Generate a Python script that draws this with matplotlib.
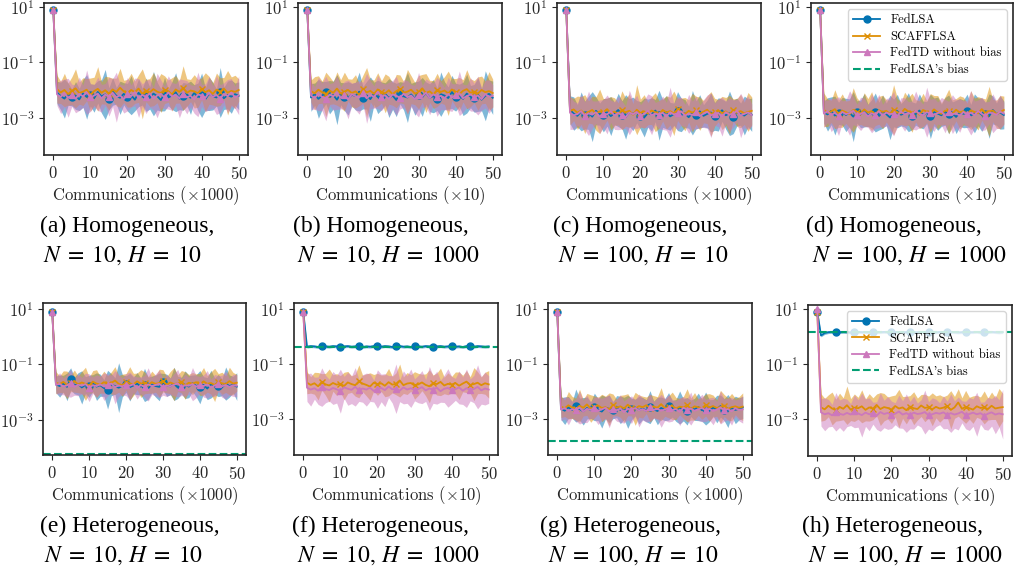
import numpy as np
import matplotlib
matplotlib.use("Agg")
import matplotlib.pyplot as plt

plt.rcParams['font.family'] = 'cmr10'
plt.rcParams['mathtext.fontset'] = 'cm'
plt.rcParams['axes.formatter.use_mathtext'] = True
plt.rcParams['axes.unicode_minus'] = False

# x axis: communication rounds (scaled), 0..50
steps = np.arange(51)

# mean curves are log10 values * 100, spreads are log10 half-width * 10
# ---- (a) homogeneous N=10 H=10
a_lsa_m = [90,
 -208, -221, -230, -214, -226, -219, -233, -211, -224, -217,
 -229, -206, -222, -215, -231, -204, -220, -227, -213, -225,
 -218, -234, -209, -223, -216, -228, -212, -221, -235, -214,
 -226, -219, -207, -230, -222, -215, -227, -210, -224, -218,
 -232, -213, -221, -226, -208, -229, -217, -223, -214, -220]
a_lsa_s = [1,
 4, 5, 7, 4, 3, 5, 4, 5, 8, 4,
 5, 4, 6, 9, 4, 5, 3, 6, 4, 5,
 7, 4, 5, 3, 6, 4, 8, 5, 4, 6,
 3, 5, 7, 4, 5, 4, 6, 3, 5, 8,
 4, 6, 5, 3, 9, 4, 5, 6, 4, 5]
a_sc_m = [90,
 -196, -208, -199, -214, -202, -193, -210, -205, -198, -216,
 -203, -195, -209, -200, -212, -197, -206, -191, -204, -211,
 -199, -207, -194, -213, -201, -208, -196, -205, -210, -198,
 -203, -215, -197, -206, -192, -209, -201, -204, -211, -195,
 -207, -200, -213, -198, -205, -194, -209, -202, -206, -199]
a_sc_s = [1,
 5, 4, 6, 4, 5, 7, 4, 5, 4, 6,
 5, 8, 4, 5, 6, 4, 5, 7, 4, 5,
 6, 4, 5, 9, 4, 5, 6, 4, 7, 5,
 4, 6, 5, 4, 8, 5, 4, 6, 5, 4,
 7, 5, 4, 6, 5, 4, 8, 5, 6, 4]
a_td_m = [90,
 -215, -224, -210, -227, -218, -231, -213, -222, -207, -226,
 -219, -212, -229, -216, -223, -209, -225, -218, -232, -214,
 -221, -206, -228, -217, -224, -211, -230, -219, -213, -226,
 -208, -222, -216, -229, -212, -225, -220, -233, -215, -219,
 -227, -210, -224, -217, -230, -213, -221, -208, -226, -218]
a_td_s = [1,
 4, 6, 5, 7, 4, 5, 6, 4, 8, 5,
 4, 6, 5, 4, 7, 5, 9, 4, 5, 6,
 4, 5, 7, 4, 6, 5, 4, 8, 5, 4,
 6, 5, 4, 7, 5, 6, 4, 5, 8, 4,
 5, 6, 4, 7, 5, 4, 6, 5, 4, 7]

# ---- (b) homogeneous N=10 H=1000
b_lsa_m = [90,
 -226, -214, -231, -219, -208, -225, -217, -234, -212, -223,
 -229, -216, -221, -205, -227, -218, -232, -211, -224, -220,
 -213, -228, -219, -235, -209, -222, -226, -215, -230, -217,
 -224, -210, -227, -221, -233, -214, -219, -228, -206, -225,
 -218, -231, -212, -223, -229, -216, -234, -220, -213, -227]
b_lsa_s = [1,
 5, 4, 7, 5, 4, 6, 5, 9, 4, 5,
 6, 4, 5, 7, 4, 5, 8, 4, 6, 5,
 4, 7, 5, 6, 4, 5, 9, 4, 6, 5,
 7, 4, 5, 6, 4, 8, 5, 4, 6, 5,
 4, 6, 7, 4, 5, 6, 4, 9, 5, 6]
b_sc_m = [90,
 -203, -211, -198, -207, -215, -201, -209, -194, -212, -205,
 -199, -210, -204, -216, -196, -208, -202, -213, -197, -206,
 -211, -200, -214, -203, -195, -209, -205, -198, -212, -207,
 -193, -210, -204, -215, -199, -206, -201, -211, -197, -208,
 -214, -202, -196, -209, -205, -212, -199, -207, -203, -210]
b_sc_s = [1,
 4, 6, 5, 4, 8, 5, 4, 6, 5, 7,
 4, 5, 6, 4, 5, 9, 4, 5, 6, 4,
 7, 5, 4, 6, 5, 4, 8, 5, 4, 6,
 5, 7, 4, 5, 6, 4, 5, 8, 4, 5,
 6, 4, 7, 5, 4, 6, 5, 4, 7, 5]
b_td_m = [90,
 -219, -228, -213, -224, -230, -216, -222, -209, -227, -218,
 -233, -214, -221, -226, -211, -229, -217, -224, -206, -223,
 -218, -231, -215, -220, -227, -212, -225, -219, -232, -216,
 -222, -209, -228, -214, -224, -220, -230, -213, -226, -217,
 -211, -229, -221, -215, -225, -219, -232, -214, -223, -220]
b_td_s = [1,
 5, 4, 6, 5, 8, 4, 5, 6, 4, 5,
 7, 4, 5, 6, 4, 9, 5, 4, 6, 5,
 4, 6, 5, 7, 4, 5, 6, 4, 5, 8,
 4, 5, 6, 4, 7, 5, 4, 6, 5, 4,
 8, 5, 4, 6, 5, 7, 4, 5, 6, 4]

# ---- (c) homogeneous N=100 H=10
c_lsa_m = [90,
 -270, -284, -292, -276, -289, -281, -295, -274, -286, -290,
 -279, -293, -283, -271, -288, -296, -280, -285, -277, -291,
 -298, -282, -287, -273, -290, -284, -279, -294, -286, -275,
 -289, -283, -297, -281, -288, -276, -292, -285, -280, -294,
 -287, -272, -290, -283, -296, -278, -286, -291, -281, -288]
c_lsa_s = [1,
 5, 6, 4, 7, 5, 6, 9, 5, 4, 6,
 5, 7, 4, 6, 5, 8, 5, 6, 4, 5,
 7, 5, 6, 4, 9, 5, 6, 5, 4, 7,
 6, 5, 4, 8, 5, 6, 4, 5, 7, 5,
 6, 4, 5, 8, 6, 5, 4, 7, 5, 6]
c_sc_m = [90,
 -275, -269, -281, -273, -286, -278, -271, -284, -276, -280,
 -268, -283, -277, -285, -272, -279, -274, -288, -270, -282,
 -276, -284, -273, -279, -287, -271, -280, -275, -283, -269,
 -278, -286, -274, -281, -272, -284, -277, -270, -285, -279,
 -273, -282, -276, -288, -271, -280, -275, -283, -278, -274]
c_sc_s = [1,
 5, 4, 6, 5, 7, 4, 5, 6, 8, 5,
 4, 6, 5, 4, 7, 5, 6, 4, 9, 5,
 6, 4, 5, 7, 5, 4, 6, 5, 8, 4,
 5, 6, 4, 7, 5, 6, 4, 5, 8, 5,
 4, 6, 5, 7, 4, 5, 6, 4, 7, 5]
c_td_m = [90,
 -281, -290, -286, -275, -293, -283, -288, -279, -295, -284,
 -287, -276, -291, -282, -289, -297, -280, -286, -278, -292,
 -285, -273, -290, -284, -288, -281, -294, -279, -287, -283,
 -276, -291, -285, -289, -280, -293, -284, -277, -290, -286,
 -282, -295, -279, -288, -284, -274, -291, -285, -280, -289]
c_td_s = [1,
 6, 5, 4, 6, 5, 8, 5, 4, 6, 5,
 7, 4, 5, 6, 5, 4, 8, 5, 6, 4,
 5, 6, 7, 4, 5, 6, 5, 9, 4, 6,
 5, 4, 7, 5, 6, 4, 5, 6, 8, 4,
 5, 7, 4, 6, 5, 4, 8, 5, 6, 4]

# ---- (d) homogeneous N=100 H=1000
d_lsa_m = [90,
 -279, -287, -274, -291, -283, -276, -289, -281, -295, -278,
 -285, -272, -290, -284, -280, -293, -277, -286, -298, -282,
 -275, -288, -283, -279, -292, -286, -273, -289, -281, -294,
 -278, -284, -290, -276, -287, -282, -296, -280, -285, -274,
 -291, -283, -278, -288, -284, -293, -271, -286, -280, -289]
d_lsa_s = [1,
 4, 6, 5, 7, 4, 5, 6, 5, 9, 4,
 5, 6, 4, 5, 7, 5, 6, 4, 8, 5,
 6, 4, 5, 7, 5, 4, 6, 5, 4, 8,
 5, 6, 4, 5, 7, 4, 6, 5, 5, 6,
 4, 7, 5, 6, 4, 8, 5, 4, 6, 5]
d_sc_m = [90,
 -270, -281, -276, -268, -284, -273, -279, -286, -271, -277,
 -283, -269, -280, -275, -287, -272, -278, -274, -285, -270,
 -279, -283, -267, -276, -281, -274, -288, -271, -277, -282,
 -269, -279, -285, -273, -276, -284, -270, -280, -275, -287,
 -272, -278, -283, -268, -281, -276, -273, -286, -279, -271]
d_sc_s = [1,
 6, 5, 4, 7, 5, 6, 4, 5, 8, 5,
 4, 6, 5, 7, 4, 5, 6, 4, 5, 9,
 5, 4, 6, 5, 7, 4, 5, 6, 4, 7,
 5, 6, 4, 5, 8, 5, 4, 6, 5, 4,
 7, 5, 6, 4, 5, 9, 4, 5, 6, 5]
d_td_m = [90,
 -284, -276, -289, -281, -293, -278, -286, -282, -274, -290,
 -285, -279, -294, -283, -288, -275, -291, -280, -286, -284,
 -292, -277, -287, -281, -289, -273, -285, -290, -279, -283,
 -288, -282, -276, -293, -280, -286, -284, -291, -278, -287,
 -281, -289, -275, -285, -292, -280, -283, -288, -277, -284]
d_td_s = [1,
 5, 4, 6, 5, 7, 4, 5, 8, 5, 4,
 6, 5, 4, 7, 5, 6, 4, 5, 6, 8,
 4, 5, 6, 4, 5, 7, 5, 4, 9, 5,
 6, 4, 5, 6, 4, 7, 5, 6, 4, 5,
 8, 5, 4, 6, 5, 4, 7, 5, 6, 4]

# ---- (e) heterogeneous N=10 H=10
e_lsa_m = [90,
 -172, -178, -169, -181, -152, -176, -170, -183, -174, -179,
 -167, -180, -175, -185, -191, -173, -178, -184, -177, -171,
 -182, -176, -169, -180, -174, -186, -172, -178, -181, -162,
 -175, -179, -170, -183, -176, -173, -180, -168, -177, -182,
 -174, -187, -171, -179, -176, -183, -169, -178, -173, -180]
e_lsa_s = [1,
 3, 4, 3, 5, 4, 3, 4, 6, 3, 4,
 3, 5, 4, 3, 7, 4, 3, 9, 4, 3,
 5, 3, 4, 3, 6, 4, 3, 4, 5, 3,
 4, 3, 6, 4, 3, 5, 4, 3, 4, 6,
 3, 4, 5, 3, 4, 3, 6, 4, 3, 5]
e_sc_m = [90,
 -166, -171, -163, -174, -168, -160, -172, -165, -170, -176,
 -162, -169, -173, -164, -171, -167, -158, -170, -175, -163,
 -168, -172, -161, -169, -166, -174, -164, -170, -167, -159,
 -173, -165, -171, -168, -162, -176, -166, -169, -164, -172,
 -161, -170, -167, -174, -163, -168, -171, -160, -169, -166]
e_sc_s = [1,
 4, 3, 4, 5, 3, 4, 3, 4, 6, 3,
 4, 5, 3, 4, 3, 4, 5, 3, 4, 3,
 6, 4, 3, 5, 4, 3, 4, 3, 5, 4,
 3, 4, 6, 3, 4, 5, 3, 4, 3, 4,
 5, 3, 4, 6, 3, 4, 3, 5, 4, 3]
e_td_m = [90,
 -174, -170, -179, -176, -168, -181, -173, -177, -171, -184,
 -175, -178, -172, -180, -174, -169, -182, -176, -179, -173,
 -177, -171, -185, -175, -180, -172, -178, -174, -170, -181,
 -176, -179, -173, -168, -182, -175, -177, -171, -180, -174,
 -178, -172, -183, -176, -170, -179, -174, -181, -175, -177]
e_td_s = [1,
 3, 4, 3, 4, 5, 3, 4, 3, 4, 5,
 3, 4, 3, 5, 4, 3, 6, 4, 3, 4,
 5, 3, 4, 3, 4, 6, 3, 4, 5, 3,
 4, 3, 4, 5, 3, 4, 3, 6, 4, 3,
 4, 5, 3, 4, 3, 4, 5, 3, 4, 4]
e_bias = -425

# ---- (f) heterogeneous N=10 H=1000
f_lsa_m = [90,
 -37, -35, -36, -38, -35, -36, -37, -35, -36, -38,
 -36, -35, -37, -36, -35, -38, -36, -37, -35, -36,
 -37, -35, -36, -38, -36, -35, -37, -36, -38, -35,
 -36, -37, -35, -36, -38, -36, -35, -37, -36, -35,
 -37, -36, -38, -35, -36, -37, -35, -36, -37, -36]
f_lsa_s = [1,
 .5, .5, .5, .5, .5, .5, .5, .5, .5, .5,
 .5, .5, .5, .5, .5, .5, .5, .5, .5, .5,
 .5, .5, .5, .5, .5, .5, .5, .5, .5, .5,
 .5, .5, .5, .5, .5, .5, .5, .5, .5, .5,
 .5, .5, .5, .5, .5, .5, .5, .5, .5, .5]
f_sc_m = [90,
 -168, -176, -170, -181, -165, -174, -178, -169, -175, -172,
 -180, -167, -173, -177, -163, -171, -176, -182, -168, -174,
 -170, -179, -166, -175, -172, -160, -177, -171, -169, -178,
 -174, -167, -176, -181, -170, -173, -165, -178, -172, -175,
 -169, -179, -171, -164, -176, -173, -168, -177, -170, -174]
f_sc_s = [1,
 4, 3, 4, 5, 3, 4, 6, 3, 4, 3,
 5, 4, 3, 4, 6, 3, 4, 5, 3, 4,
 3, 4, 5, 3, 4, 6, 3, 4, 3, 5,
 4, 3, 4, 6, 3, 4, 5, 3, 4, 3,
 4, 5, 3, 4, 3, 6, 4, 3, 4, 5]
f_td_m = [90,
 -186, -193, -188, -197, -184, -191, -195, -187, -192, -199,
 -185, -190, -194, -183, -196, -189, -193, -186, -198, -191,
 -187, -195, -182, -192, -190, -197, -185, -193, -188, -194,
 -191, -184, -196, -189, -193, -186, -199, -190, -187, -195,
 -192, -185, -197, -188, -194, -191, -183, -196, -189, -193]
f_td_s = [1,
 5, 6, 4, 5, 7, 5, 4, 6, 5, 8,
 4, 6, 5, 7, 4, 5, 6, 5, 4, 7,
 5, 6, 4, 5, 9, 4, 6, 5, 7, 4,
 5, 6, 4, 8, 5, 6, 4, 5, 7, 5,
 4, 6, 5, 7, 4, 5, 8, 5, 6, 5]
f_bias = -38

# ---- (g) heterogeneous N=100 H=10
g_lsa_m = [90,
 -262, -270, -258, -267, -251, -264, -272, -260, -268, -256,
 -266, -273, -259, -263, -269, -255, -267, -261, -274, -264,
 -258, -268, -262, -270, -257, -265, -271, -260, -266, -254,
 -263, -269, -258, -267, -272, -261, -265, -256, -268, -262,
 -270, -259, -264, -253, -266, -271, -260, -267, -263, -258]
g_lsa_s = [1,
 4, 5, 4, 3, 6, 4, 5, 4, 3, 5,
 4, 6, 4, 5, 3, 4, 5, 4, 6, 4,
 3, 5, 4, 4, 6, 3, 5, 4, 4, 5,
 3, 4, 6, 4, 5, 3, 4, 5, 4, 6,
 4, 3, 5, 4, 4, 6, 3, 5, 4, 4]
g_sc_m = [90,
 -255, -261, -250, -258, -264, -252, -259, -247, -262, -256,
 -251, -260, -257, -265, -249, -258, -254, -262, -248, -259,
 -263, -253, -257, -250, -261, -255, -259, -246, -260, -256,
 -252, -262, -255, -258, -250, -264, -254, -257, -261, -249,
 -258, -253, -260, -256, -251, -263, -257, -254, -259, -255]
g_sc_s = [1,
 4, 3, 5, 4, 4, 6, 3, 4, 5, 4,
 3, 5, 4, 6, 4, 3, 4, 5, 4, 3,
 6, 4, 4, 3, 5, 4, 4, 6, 3, 4,
 5, 4, 3, 4, 6, 4, 5, 3, 4, 4,
 5, 4, 3, 6, 4, 4, 5, 3, 4, 5]
g_td_m = [90,
 -266, -260, -271, -264, -268, -258, -273, -263, -267, -261,
 -270, -265, -259, -272, -264, -268, -262, -275, -263, -266,
 -260, -269, -264, -271, -258, -267, -263, -270, -265, -261,
 -268, -264, -274, -259, -266, -262, -270, -265, -260, -269,
 -263, -271, -266, -258, -268, -264, -272, -261, -267, -265]
g_td_s = [1,
 4, 4, 5, 3, 4, 6, 4, 5, 3, 4,
 5, 4, 4, 6, 3, 4, 5, 4, 4, 5,
 3, 6, 4, 4, 5, 3, 4, 6, 4, 5,
 4, 3, 5, 4, 4, 6, 3, 4, 5, 4,
 4, 5, 3, 6, 4, 4, 5, 3, 4, 5]
g_bias = -380

# ---- (h) heterogeneous N=100 H=1000
h_lsa_m = [90,
 4, 13, 16, 17, 16, 16, 17, 16, 15, 16,
 17, 16, 16, 15, 17, 16, 16, 17, 16, 15,
 16, 17, 16, 16, 17, 15, 16, 16, 17, 16,
 16, 15, 17, 16, 16, 17, 16, 15, 16, 17,
 16, 16, 17, 15, 16, 16, 17, 16, 15, 16]
h_lsa_s = [1,
 .5, .5, .5, .5, .5, .5, .5, .5, .5, .5,
 .5, .5, .5, .5, .5, .5, .5, .5, .5, .5,
 .5, .5, .5, .5, .5, .5, .5, .5, .5, .5,
 .5, .5, .5, .5, .5, .5, .5, .5, .5, .5,
 .5, .5, .5, .5, .5, .5, .5, .5, .5, .5]
h_sc_m = [90,
 -258, -265, -252, -262, -268, -256, -263, -250, -266, -259,
 -261, -254, -267, -258, -263, -249, -264, -257, -260, -266,
 -253, -262, -258, -268, -255, -261, -264, -251, -260, -257,
 -265, -256, -262, -259, -253, -267, -258, -240, -263, -256,
 -261, -266, -254, -260, -258, -264, -252, -262, -259, -257]
h_sc_s = [1,
 5, 4, 4, 6, 4, 5, 4, 7, 4, 5,
 4, 6, 4, 5, 4, 4, 6, 5, 4, 5,
 4, 7, 4, 5, 4, 6, 4, 4, 5, 4,
 6, 4, 5, 4, 4, 7, 4, 5, 4, 6,
 4, 5, 4, 4, 6, 4, 5, 4, 7, 5]
h_td_m = [100,
 -276, -283, -279, -287, -274, -281, -285, -278, -284, -272,
 -280, -286, -277, -283, -279, -288, -275, -282, -278, -285,
 -281, -273, -284, -279, -286, -277, -282, -280, -275, -287,
 -283, -278, -281, -276, -285, -279, -284, -280, -274, -286,
 -282, -277, -283, -279, -288, -281, -276, -284, -280, -283]
h_td_s = [1,
 5, 6, 5, 4, 7, 5, 6, 5, 4, 6,
 5, 8, 5, 6, 4, 5, 7, 5, 6, 5,
 4, 6, 5, 7, 5, 6, 4, 5, 8, 5,
 6, 5, 4, 6, 5, 7, 5, 6, 4, 5,
 6, 5, 8, 4, 5, 6, 5, 7, 5, 9]
h_bias = 16

names = ["FedLSA", "SCAFFLSA", "FedTD without bias"]
colors = ["#0173B2", "#DE8F05", "#CC78BC"]
markers = ["o", "x", "^"]
bias_color = "#029E73"

panels = [
    ([(a_lsa_m, a_lsa_s), (a_sc_m, a_sc_s), (a_td_m, a_td_s)], None, "1000", "(a) Homogeneous,", r"$N\;=\;10,\,H\;=\;10$"),
    ([(b_lsa_m, b_lsa_s), (b_sc_m, b_sc_s), (b_td_m, b_td_s)], None, "10", "(b) Homogeneous,", r"$N\;=\;10,\,H\;=\;1000$"),
    ([(c_lsa_m, c_lsa_s), (c_sc_m, c_sc_s), (c_td_m, c_td_s)], None, "1000", "(c) Homogeneous,", r"$N\;=\;100,\,H\;=\;10$"),
    ([(d_lsa_m, d_lsa_s), (d_sc_m, d_sc_s), (d_td_m, d_td_s)], None, "10", "(d) Homogeneous,", r"$N\;=\;100,\,H\;=\;1000$"),
    ([(e_lsa_m, e_lsa_s), (e_sc_m, e_sc_s), (e_td_m, e_td_s)], e_bias, "1000", "(e) Heterogeneous,", r"$N\;=\;10,\,H\;=\;10$"),
    ([(f_lsa_m, f_lsa_s), (f_sc_m, f_sc_s), (f_td_m, f_td_s)], f_bias, "10", "(f) Heterogeneous,", r"$N\;=\;10,\,H\;=\;1000$"),
    ([(g_lsa_m, g_lsa_s), (g_sc_m, g_sc_s), (g_td_m, g_td_s)], g_bias, "1000", "(g) Heterogeneous,", r"$N\;=\;100,\,H\;=\;10$"),
    ([(h_lsa_m, h_lsa_s), (h_sc_m, h_sc_s), (h_td_m, h_td_s)], h_bias, "10", "(h) Heterogeneous,", r"$N\;=\;100,\,H\;=\;1000$"),
]

# axes boxes in pixels: left, right, top, bottom
W, H = 1021, 571
boxes = [(44, 248, 3, 155), (298, 502, 3, 155), (557, 761, 3, 155), (811, 1013, 3, 155),
         (43, 246, 303, 455), (294, 498, 303, 455), (548, 752, 303, 455), (808, 1012, 305, 456)]
ylims = [(-4.33, 1.14)] * 4 + [(-4.27, 1.22), (-4.31, 1.22), (-4.31, 1.22), (-4.35, 1.15)]
cap_x = [(40, 43), (293, 297), (553, 558), (806, 812), (40, 44), (292, 297), (540, 548), (802, 808)]
cap_y = [(232, 262)] * 4 + [(532, 562)] * 4

fig = plt.figure(figsize=(W / 100, H / 100), dpi=100)

for i, (series, bias, scale, cap1, cap2) in enumerate(panels):
    l, r, t, b = boxes[i]
    ax = fig.add_axes([l / W, 1 - b / H, (r - l) / W, (b - t) / H])
    for (m, s), name, c, mk in zip(series, names, colors, markers):
        mean = 10 ** (np.array(m) / 100)
        spread = 10 ** (np.array(s) / 10)
        ax.fill_between(steps, mean / spread, mean * spread, color=c, alpha=0.5, lw=0)
        ax.plot(steps, mean, color=c, marker=mk, markevery=slice(0, 50, 5), ms=5, lw=1.3, label=name)
    if bias is not None:
        ax.axhline(10 ** (bias / 100), color=bias_color, ls="--", lw=1.5, label="FedLSA's bias")
    else:
        ax.plot([], [], color=bias_color, ls="--", lw=1.5, label="FedLSA's bias")
    ax.set_yscale("log")
    ax.set_ylim(10 ** ylims[i][0], 10 ** ylims[i][1])
    ax.set_xlim(-2.5, 52.5)
    ax.set_xticks([0, 10, 20, 30, 40, 50])
    ax.set_yticks([10, 0.1, 0.001])
    ax.yaxis.set_minor_locator(matplotlib.ticker.NullLocator())
    ax.tick_params(labelsize=12, colors="0.15", length=3.5)
    for sp in ax.spines.values():
        sp.set_color("0.15")
        sp.set_linewidth(1.2)
    ax.set_xlabel(r"Communications ($\times$" + scale + ")", fontsize=12, color="0.15", labelpad=2)
    if i in (3, 7):
        ax.legend(loc="upper right", fontsize=9, framealpha=0.8, handlelength=2.2,
                  borderpad=0.4, labelspacing=0.35)
    x1, x2 = cap_x[i]
    y1, y2 = cap_y[i]
    fig.text(x1 / W, 1 - y1 / H, cap1, fontsize=17, family="Liberation Serif", ha="left", va="baseline")
    fig.text(x2 / W, 1 - y2 / H, cap2, fontsize=17, family="Liberation Serif",
             math_fontfamily="stix", ha="left", va="baseline")

fig.savefig("out.png", dpi=100)
